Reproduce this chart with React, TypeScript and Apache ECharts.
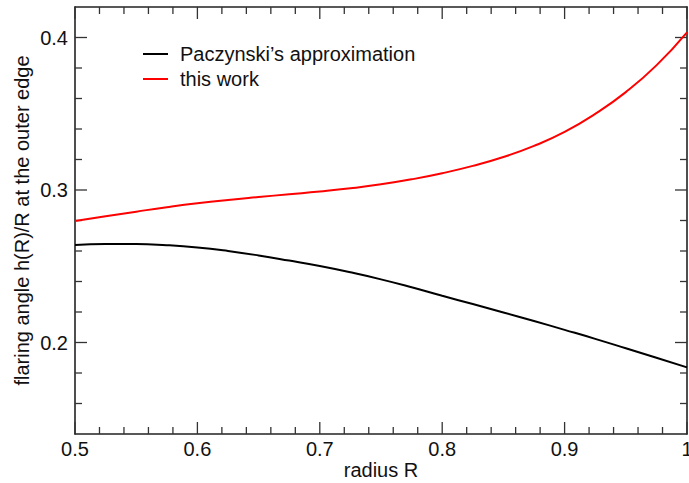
import React, { useEffect, useRef } from "react";
import * as echarts from "echarts";

const radius = [0.5, 0.525, 0.55, 0.575, 0.6, 0.625, 0.65, 0.675, 0.7, 0.725, 0.75, 0.775, 0.8, 0.825, 0.85, 0.875, 0.9, 0.925, 0.95, 0.975, 1.0];
const paczynski = [0.2640, 0.2646, 0.2646, 0.2638, 0.2623, 0.2600, 0.2571, 0.2537, 0.2501, 0.2460, 0.2414, 0.2362, 0.2306, 0.2252, 0.2197, 0.2141, 0.2083, 0.2024, 0.1962, 0.1900, 0.1837];
const thisWork = [0.2797, 0.2828, 0.2858, 0.2887, 0.2913, 0.2935, 0.2954, 0.2972, 0.2990, 0.3011, 0.3037, 0.3070, 0.3110, 0.3158, 0.3216, 0.3289, 0.3381, 0.3499, 0.3642, 0.3817, 0.4034];

const xMajorTicks = [0.5, 0.6, 0.7, 0.8, 0.9, 1.0];
const xTickLabels = ["0.5", "0.6", "0.7", "0.8", "0.9", "1"];
const xMinorTicks = [0.52, 0.54, 0.56, 0.58, 0.62, 0.64, 0.66, 0.68, 0.72, 0.74, 0.76, 0.78, 0.82, 0.84, 0.86, 0.88, 0.92, 0.94, 0.96, 0.98];
const yMajorTicks = [0.2, 0.3, 0.4];
const yTickLabels = ["0.2", "0.3", "0.4"];
const yMinorTicks = [0.16, 0.18, 0.22, 0.24, 0.26, 0.28, 0.32, 0.34, 0.36, 0.38];

const X_MIN = 0.5;
const X_MAX = 1.0;
const Y_MIN = 0.14;
const Y_MAX = 0.42;

const FONT = "Liberation Sans";
const MAJOR_LEN = 12;
const MINOR_LEN = 7;
const TICK_COLOR = "#333";

export default function App() {
  const ref = useRef<HTMLDivElement>(null);
  useEffect(() => {
    if (!ref.current) return;
    const chart = echarts.init(ref.current, null, { renderer: "svg" });
    const lineStyle = { color: "#222", width: 1.6 };

    const xTickData = [
      ...xMajorTicks.map((v) => [v, MAJOR_LEN]),
      ...xMinorTicks.map((v) => [v, MINOR_LEN]),
    ];
    const yTickData = [
      ...yMajorTicks.map((v) => [v, MAJOR_LEN]),
      ...yMinorTicks.map((v) => [v, MINOR_LEN]),
    ];

    const tickStyle = { stroke: TICK_COLOR, lineWidth: 1.3 };

    const option: any = {
      animation: false,
      backgroundColor: "#fff",
      grid: { left: 75, right: 2, top: 7, bottom: 49, containLabel: false, outerBoundsMode: "none" },
      legend: {
        orient: "vertical",
        left: 143,
        top: 44,
        padding: 0,
        itemWidth: 25,
        itemHeight: 2,
        itemGap: 5,
        icon: "rect",
        textStyle: { fontFamily: FONT, fontSize: 20, color: "#111", padding: [0, 0, 0, 7] },
        data: ["Paczynski\u2019s approximation", "this work"],
      },
      xAxis: [
        {
          type: "value",
          min: X_MIN,
          max: X_MAX,
          position: "bottom",
          splitLine: { show: false },
          axisLine: { show: true, onZero: false, lineStyle },
          axisTick: { show: false },
          axisLabel: {
            show: true,
            customValues: xMajorTicks,
            margin: 5,
            fontFamily: FONT,
            fontSize: 20,
            color: "#111",
            formatter: (v: number) => xTickLabels[xMajorTicks.findIndex((t) => Math.abs(t - v) < 1e-9)] ?? "",
          },
          name: "radius R",
          nameLocation: "middle",
          nameGap: 26,
          nameMoveOverlap: false,
          nameTextStyle: { fontFamily: FONT, fontSize: 20, color: "#111" },
        },
        {
          type: "value",
          min: X_MIN,
          max: X_MAX,
          position: "top",
          splitLine: { show: false },
          axisLine: { show: true, onZero: false, lineStyle },
          axisTick: { show: false },
          axisLabel: { show: false },
        },
      ],
      yAxis: [
        {
          type: "value",
          min: Y_MIN,
          max: Y_MAX,
          position: "left",
          splitLine: { show: false },
          axisLine: { show: true, onZero: false, lineStyle },
          axisTick: { show: false },
          axisLabel: {
            show: true,
            customValues: yMajorTicks,
            margin: 7,
            fontFamily: FONT,
            fontSize: 20,
            color: "#111",
            formatter: (v: number) => yTickLabels[yMajorTicks.findIndex((t) => Math.abs(t - v) < 1e-9)] ?? "",
          },
          name: "flaring angle h(R)/R at the outer edge",
          nameLocation: "middle",
          nameGap: 43,
          nameMoveOverlap: false,
          nameTextStyle: { fontFamily: FONT, fontSize: 20, color: "#111" },
        },
        {
          type: "value",
          min: Y_MIN,
          max: Y_MAX,
          position: "right",
          splitLine: { show: false },
          axisLine: { show: true, onZero: false, lineStyle },
          axisTick: { show: false },
          axisLabel: { show: false },
        },
      ],
      series: [
        {
          name: "Paczynski\u2019s approximation",
          type: "line",
          xAxisIndex: 0,
          yAxisIndex: 0,
          symbol: "none",
          smooth: 0.5,
          color: "#000",
          lineStyle: { color: "#000", width: 2 },
          data: radius.map((r, i) => [r, paczynski[i]]),
        },
        {
          name: "this work",
          type: "line",
          xAxisIndex: 0,
          yAxisIndex: 0,
          symbol: "none",
          smooth: 0.5,
          color: "#ff0000",
          lineStyle: { color: "#ff0000", width: 2 },
          data: radius.map((r, i) => [r, thisWork[i]]),
        },
        {
          name: "xticks",
          type: "custom",
          xAxisIndex: 0,
          yAxisIndex: 0,
          silent: true,
          clip: false,
          encode: { x: 0 },
          data: xTickData,
          renderItem: (params: any, api: any) => {
            const v = api.value(0);
            const len = api.value(1);
            const pb = api.coord([v, Y_MIN]);
            const pt = api.coord([v, Y_MAX]);
            return {
              type: "group",
              children: [
                { type: "line", shape: { x1: pb[0], y1: pb[1], x2: pb[0], y2: pb[1] - len }, style: tickStyle },
                { type: "line", shape: { x1: pt[0], y1: pt[1], x2: pt[0], y2: pt[1] + len }, style: tickStyle },
              ],
            };
          },
        },
        {
          name: "yticks",
          type: "custom",
          xAxisIndex: 0,
          yAxisIndex: 0,
          silent: true,
          clip: false,
          encode: { y: 0 },
          data: yTickData,
          renderItem: (params: any, api: any) => {
            const v = api.value(0);
            const len = api.value(1);
            const pl = api.coord([X_MIN, v]);
            const pr = api.coord([X_MAX, v]);
            return {
              type: "group",
              children: [
                { type: "line", shape: { x1: pl[0], y1: pl[1], x2: pl[0] + len, y2: pl[1] }, style: tickStyle },
                { type: "line", shape: { x1: pr[0], y1: pr[1], x2: pr[0] - len, y2: pr[1] }, style: tickStyle },
              ],
            };
          },
        },
      ],
    };
    chart.setOption(option);
    return () => chart.dispose();
  }, []);
  return (
    <div
      ref={ref}
      style={{ position: "fixed", left: 0, top: 0, width: 689, height: 483, background: "#fff" }}
    />
  );
}
